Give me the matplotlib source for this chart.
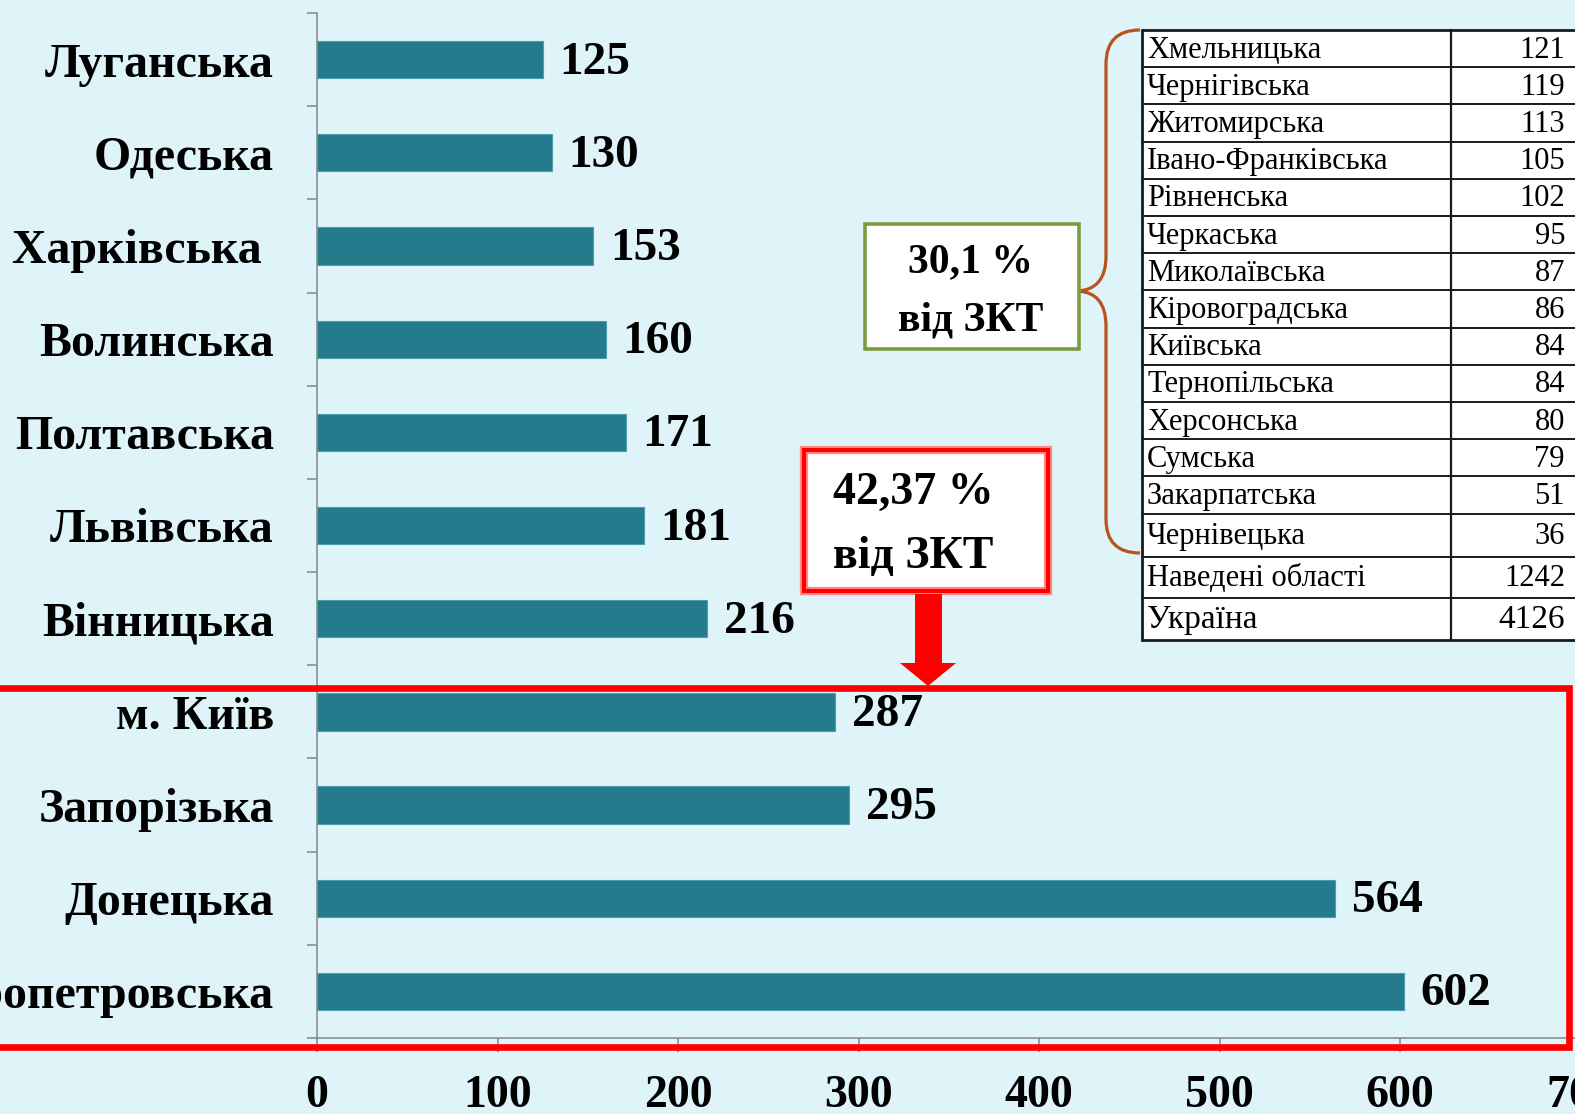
import matplotlib
matplotlib.use('Agg')
import matplotlib.pyplot as plt
import numpy as np
from matplotlib.patches import Rectangle, Polygon, PathPatch
from matplotlib.path import Path

plt.rcParams['font.family'] = ['Liberation Serif', 'DejaVu Serif']

# main chart data
regions = ['Луганська', 'Одеська', 'Харківська ', 'Волинська', 'Полтавська', 'Львівська',
           'Вінницька', 'м. Київ', 'Запорізька', 'Донецька', 'Дніпропетровська']
counts = [125, 130, 153, 160, 171, 181, 216, 287, 295, 564, 602]
xticks = [0, 100, 200, 300, 400, 500, 600, 700]

# side table data
table_regions = ['Хмельницька', 'Чернігівська', 'Житомирська', 'Івано-Франківська', 'Рівненська',
                 'Черкаська', 'Миколаївська', 'Кіровоградська', 'Київська', 'Тернопільська',
                 'Херсонська', 'Сумська', 'Закарпатська', 'Чернівецька']
table_counts = [121, 119, 113, 105, 102, 95, 87, 86, 84, 84, 80, 79, 51, 36]
sum_label, sum_value = 'Наведені області', 1242
total_label, total_value = 'Україна', 4126

green_note = '30,1 %\nвід ЗКТ'
red_note = '42,37 %\nвід ЗКТ'

W, H = 1575, 1114
bg = '#DEF4F9'
bar_color = '#237B8C'
grey = '#868686'

fig = plt.figure(figsize=(W / 100, H / 100), dpi=100, facecolor=bg)
ax = fig.add_axes([317 / W, 1 - 1038 / H, 1263.5 / W, 1025 / H])
ax.set_facecolor(bg)

y = np.arange(len(regions))
ax.barh(y, counts, height=0.4, color=bar_color, edgecolor='#4E9DAD', linewidth=0.8)
ax.set_xlim(0, 700)
ax.set_ylim(len(regions) - 0.5, -0.5)

for yi, v in zip(y, counts):
    ax.annotate(str(v), (v, yi), xytext=(12, -2.2), textcoords='offset points',
                va='center', ha='left', fontsize=34, fontweight='bold')

ax.set_yticks(y, regions, fontsize=34.5, fontweight='bold')
ax.set_yticks(np.arange(-0.5, len(regions), 1), minor=True)
ax.tick_params(axis='y', which='major', length=0, pad=31)
ax.tick_params(axis='y', which='minor', length=7.2, width=1.1, color=grey)
ax.set_xticks(xticks)
ax.tick_params(axis='x', length=10, width=1.1, color=grey, pad=16.5, labelsize=33)
for lab in ax.get_xticklabels():
    lab.set_fontweight('bold')

for s in ['top', 'right']:
    ax.spines[s].set_visible(False)
for s in ['left', 'bottom']:
    ax.spines[s].set_color(grey)
    ax.spines[s].set_linewidth(1.1)

# overlay in pixel coordinates for the decorations
ov = fig.add_axes([0, 0, 1, 1], facecolor='none')
ov.set_xlim(0, W)
ov.set_ylim(H, 0)
ov.axis('off')

# big red frame around the top-4 regions
ov.add_patch(Rectangle((-10, 688), 1579, 359, fill=False, ec='red', lw=4.8))

# table
heights = [37.2] * 13 + [43, 41, 42]
edges = np.concatenate([[30], 30 + np.cumsum(heights)])
names = table_regions + [sum_label, total_label]
values = table_counts + [sum_value, total_value]
tl, tdiv, tr = 1142, 1451, 1590
ov.add_patch(Rectangle((tl, 30), tr - tl, edges[-1] - 30, fc='white', ec='none'))
for i, e in enumerate(edges):
    lw = 2.0 if i in (0, len(edges) - 1) else 1.4
    ov.plot([tl, tr], [e, e], color='#1a1a1a', lw=lw, solid_capstyle='butt')
ov.plot([tl, tl], [30, edges[-1]], color='#1a1a1a', lw=2.0)
ov.plot([tdiv, tdiv], [30, edges[-1]], color='#1a1a1a', lw=1.6)
for i, (n, v) in enumerate(zip(names, values)):
    cy = (edges[i] + edges[i + 1]) / 2 + 1.5
    fs = 24 if i == len(names) - 1 else 22
    ov.text(tl + 5, cy, n, ha='left', va='center', fontsize=fs)
    ov.text(1565, cy, str(v), ha='right', va='center', fontsize=fs)

# curly brace
verts = [(1140, 30), (1106, 30), (1106, 64),
         (1106, 256),
         (1106, 290), (1077, 291),
         (1106, 292), (1106, 326),
         (1106, 519),
         (1106, 553), (1140, 553)]
codes = [Path.MOVETO, Path.CURVE3, Path.CURVE3,
         Path.LINETO,
         Path.CURVE3, Path.CURVE3,
         Path.CURVE3, Path.CURVE3,
         Path.LINETO,
         Path.CURVE3, Path.CURVE3]
ov.add_patch(PathPatch(Path(verts, codes), fill=False, ec='#B9531C', lw=2.3))

# green note
ov.add_patch(Rectangle((864.5, 223.5), 214, 125, fc='white', ec='#7C9B40', lw=2.6))
ov.text(971, 291, green_note, ha='center', va='center', fontsize=30, fontweight='bold',
        linespacing=1.7)

# red note with arrow
ov.add_patch(Rectangle((804, 450), 244, 141, fc='white', ec='#FF8A8A', lw=6))
ov.add_patch(Rectangle((804, 450), 244, 141, fill=False, ec='red', lw=3))
ov.text(833, 525, red_note, ha='left', va='center', fontsize=33, fontweight='bold',
        linespacing=1.7)
ov.add_patch(Polygon([(915, 594), (942, 594), (942, 663), (956, 663), (928, 686),
                      (900, 663), (915, 663)], closed=True, fc='red', ec='none'))

fig.savefig('out.png', dpi=100, facecolor=bg)
